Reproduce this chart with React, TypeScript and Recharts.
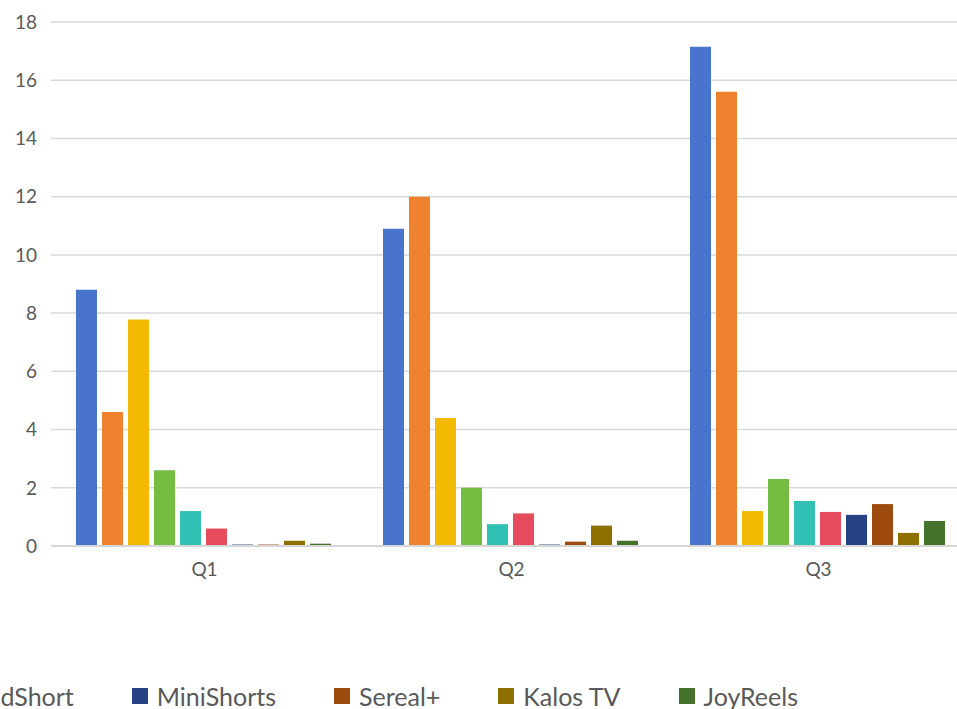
import React from 'react';
import { BarChart, Bar, XAxis, YAxis, CartesianGrid } from 'recharts';

// Quarterly revenue by app
const quarters = ['Q1', 'Q2', 'Q3'];

const apps = [
  'ReelShort',
  'DramaBox',
  'ShortMax',
  'FlexTV',
  'DramaWave',
  'GoodShort',
  'MiniShorts',
  'Sereal+',
  'Kalos TV',
  'JoyReels',
];

const colors = [
  '#4874CB',
  '#EE822F',
  '#F2BA02',
  '#75BD42',
  '#30C0B4',
  '#E54C5E',
  '#254284',
  '#9D4B0E',
  '#8E7000',
  '#44722B',
];

const reelShort = [8.8, 10.9, 17.15];
const dramaBox = [4.6, 12.0, 15.6];
const shortMax = [7.78, 4.4, 1.2];
const flexTV = [2.6, 2.0, 2.3];
const dramaWave = [1.2, 0.75, 1.55];
const goodShort = [0.6, 1.12, 1.17];
const miniShorts = [0.05, 0.05, 1.07];
const sereal = [0.05, 0.15, 1.44];
const kalosTV = [0.18, 0.7, 0.45];
const joyReels = [0.08, 0.18, 0.86];

const yTicks = [0, 2, 4, 6, 8, 10, 12, 14, 16, 18];

const seriesValues = [
  reelShort,
  dramaBox,
  shortMax,
  flexTV,
  dramaWave,
  goodShort,
  miniShorts,
  sereal,
  kalosTV,
  joyReels,
];

const data = quarters.map((q, i) => {
  const row: Record<string, string | number> = { quarter: q };
  apps.forEach((name, s) => {
    row[name] = seriesValues[s][i];
  });
  return row;
});

const FONT = 'Lato, "Noto Sans", sans-serif';
const TEXT = '#595959';

// Single-row legend, right-anchored; the long row runs past the left edge
const ChartLegend: React.FC = () => (
  <div
    style={{
      position: 'absolute',
      left: -1000,
      width: 1798,
      top: 681,
      display: 'flex',
      justifyContent: 'flex-end',
      whiteSpace: 'nowrap',
      fontFamily: FONT,
      fontSize: 25,
      color: TEXT,
    }}
  >
    {apps.map((name, i) => (
      <div
        key={name}
        style={{
          display: 'flex',
          alignItems: 'center',
          marginLeft: i === 0 ? 0 : 58,
        }}
      >
        <span
          style={{
            display: 'inline-block',
            width: 16,
            height: 16,
            background: colors[i],
            marginRight: 9,
          }}
        />
        <span>{name}</span>
      </div>
    ))}
  </div>
);

const App: React.FC = () => {
  return (
    <div
      style={{
        position: 'fixed',
        left: 0,
        top: 0,
        width: 957,
        height: 709,
        overflow: 'hidden',
        background: '#ffffff',
      }}
    >
      <BarChart
        width={980}
        height={709}
        data={data}
        margin={{ top: 22, right: 8, bottom: 123, left: 0 }}
        barCategoryGap={25}
        barGap={5}
      >
        <CartesianGrid vertical={false} stroke="#d9d9d9" strokeWidth={1.5} />
        <XAxis
          dataKey="quarter"
          height={40}
          tickLine={false}
          tickSize={0}
          tickMargin={17}
          axisLine={{ stroke: '#d6d6d6', strokeWidth: 2 }}
          tick={{ fill: TEXT, fontSize: 19, fontFamily: FONT }}
        />
        <YAxis
          width={51}
          domain={[0, 18]}
          ticks={yTicks}
          interval={0}
          tickLine={false}
          axisLine={false}
          tickSize={0}
          tickMargin={14}
          tick={{ fill: TEXT, fontSize: 19, fontFamily: FONT }}
        />
        {apps.map((name, i) => (
          <Bar
            key={name}
            dataKey={name}
            fill={colors[i]}
            isAnimationActive={false}
          />
        ))}
      </BarChart>
      <ChartLegend />
    </div>
  );
};

export default App;
